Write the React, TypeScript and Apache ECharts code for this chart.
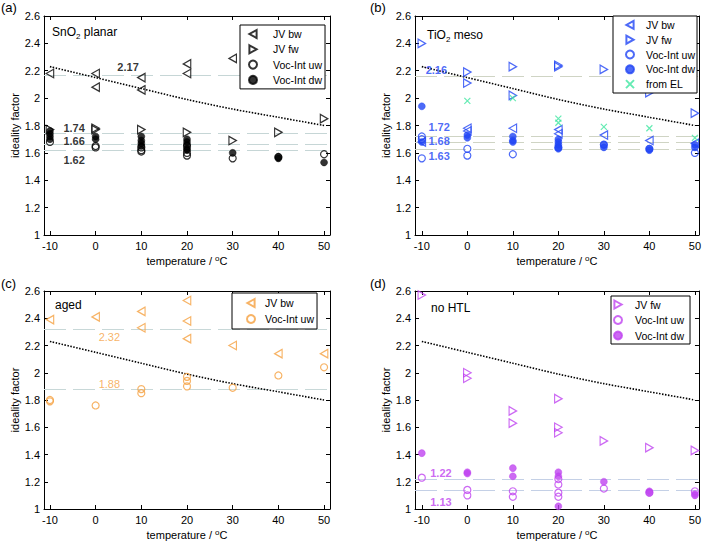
import React, { useEffect, useRef } from "react";
import * as echarts from "echarts";

const FONT = "'Liberation Sans', Arial, Helvetica, sans-serif";

// x positions of the ticks
const xTicks = [-10, 0, 10, 20, 30, 40, 50];

// theoretical dotted curve (ideality factor vs temperature)
const theoryT = [-10, 0, 10, 20, 30, 40, 50];
const theoryN = [2.23, 2.15, 2.07, 1.99, 1.92, 1.86, 1.8];

// ---- panel (a) SnO2 planar ----
const aJVbw = [[-10, 2.18], [0, 2.18], [0, 2.08], [10, 2.15], [10, 2.06], [20, 2.25], [20, 2.18], [30, 2.29]];
const aJVfw = [[-10, 1.77], [0, 1.78], [0, 1.77], [10, 1.77], [20, 1.75], [30, 1.69], [40, 1.75], [50, 1.85]];
const aUw = [[-10, 1.68], [0, 1.64], [0, 1.65], [10, 1.64], [10, 1.62], [10, 1.61], [20, 1.65], [20, 1.6], [20, 1.58], [30, 1.56], [40, 1.57], [50, 1.59]];
const aDw = [[-10, 1.76], [-10, 1.74], [-10, 1.72], [-10, 1.7], [0, 1.72], [0, 1.7], [10, 1.72], [10, 1.69], [10, 1.67], [10, 1.65], [20, 1.7], [20, 1.68], [20, 1.66], [20, 1.63], [20, 1.62], [30, 1.6], [40, 1.57], [40, 1.56], [50, 1.53]];
const aMeans = [2.17, 1.74, 1.66, 1.62];
const aLabels = [[7.1, 2.23, "2.17"], [-4.7, 1.785, "1.74"], [-4.7, 1.684, "1.66"], [-4.7, 1.547, "1.62"]];

// ---- panel (b) TiO2 meso ----
const bJVbw = [[-10, 1.68], [0, 1.78], [0, 1.76], [10, 1.78], [20, 1.77], [20, 1.74], [30, 1.73], [40, 1.69], [50, 1.67]];
const bJVfw = [[-10, 2.4], [0, 2.19], [0, 2.11], [10, 2.23], [10, 2.02], [20, 2.24], [20, 2.23], [30, 2.21], [40, 2.04], [50, 1.89]];
const bUw = [[-10, 1.72], [-10, 1.7], [-10, 1.56], [0, 1.63], [0, 1.58], [10, 1.59], [20, 1.64], [30, 1.66], [40, 1.63], [50, 1.6]];
const bDw = [[-10, 1.94], [-10, 1.68], [0, 1.73], [0, 1.71], [10, 1.72], [10, 1.69], [10, 1.68], [20, 1.7], [20, 1.68], [20, 1.66], [20, 1.64], [20, 1.63], [30, 1.66], [30, 1.64], [40, 1.63], [40, 1.62], [50, 1.66], [50, 1.64]];
const bEL = [[0, 1.98], [10, 2.0], [20, 1.85], [20, 1.82], [30, 1.79], [40, 1.78], [50, 1.71]];
const bMeans = [2.16, 1.72, 1.68, 1.63];
const bLabels = [[-6.8, 2.207, "2.16"], [-6.2, 1.79, "1.72"], [-6.2, 1.69, "1.68"], [-6.2, 1.58, "1.63"]];

// ---- panel (c) aged ----
const cJVbw = [[-10, 2.39], [0, 2.41], [10, 2.45], [10, 2.33], [20, 2.53], [20, 2.38], [20, 2.25], [30, 2.2], [40, 2.14], [50, 2.14]];
const cUw = [[-10, 1.8], [-10, 1.79], [0, 1.76], [10, 1.88], [10, 1.85], [20, 1.97], [20, 1.94], [20, 1.9], [30, 1.89], [40, 1.98], [50, 2.04]];
const cMeans = [2.32, 1.88];
const cLabels = [[3.0, 2.265, "2.32"], [3.0, 1.916, "1.88"]];

// ---- panel (d) no HTL ----
const dJVfw = [[-10, 2.57], [0, 2.0], [0, 1.96], [10, 1.72], [10, 1.63], [20, 1.81], [20, 1.6], [20, 1.56], [30, 1.5], [40, 1.45], [50, 1.43]];
const dUw = [[-10, 1.23], [0, 1.14], [0, 1.1], [10, 1.13], [10, 1.09], [20, 1.22], [20, 1.18], [20, 1.12], [20, 1.09], [30, 1.15], [40, 1.12], [50, 1.13]];
const dDw = [[-10, 1.41], [0, 1.27], [0, 1.26], [10, 1.3], [10, 1.24], [20, 1.27], [20, 1.24], [20, 1.02], [30, 1.2], [40, 1.13], [40, 1.12], [50, 1.11], [50, 1.1]];
const dMeans = [1.22, 1.135];
const dLabels = [[-5.8, 1.265, "1.22"], [-5.8, 1.055, "1.13"]];

const LEFT = "path://M9,0L0,5L9,10Z";
const RIGHT = "path://M0,0L9,5L0,10Z";
const CROSS = "path://M0,0L10,10M10,0L0,10";

type Marker = { name: string; kind: "bw" | "fw" | "uw" | "dw" | "el"; data: number[][]; color?: string };

type Panel = {
  key: string;
  letter: string;
  color: string;
  grid: { left: number; top: number; width: number; height: number };
  xMin: number;
  xMax: number;
  markers: Marker[];
  means: number[];
  meanColor: string;
  labels: (number | string)[][];
  labelBold: boolean;
  title: string;
  titlePos: [number, number];
  letterPos: [number, number];
  legend: { left: number; top: number; padding: number[]; itemGap: number; textPad: number };
};

const panels: Panel[] = [
  {
    key: "a", letter: "(a)", color: "#000000",
    grid: { left: 44, top: 16, width: 286, height: 219 }, xMin: -11.3, xMax: 51.3,
    markers: [
      { name: "JV bw", kind: "bw", data: aJVbw },
      { name: "JV fw", kind: "fw", data: aJVfw },
      { name: "Voc-Int uw", kind: "uw", data: aUw },
      { name: "Voc-Int dw", kind: "dw", data: aDw },
    ],
    means: aMeans, meanColor: "#c6d6d6", labels: aLabels, labelBold: true,
    title: "SnO{sub|2} planar", titlePos: [52, 24], letterPos: [1, 1],
    legend: { left: 240, top: 25, padding: [3.5, 3, 3.5, 8], itemGap: 4.3, textPad: 9 },
  },
  {
    key: "b", letter: "(b)", color: "#2045f5",
    grid: { left: 415, top: 16, width: 285, height: 219 }, xMin: -11.5, xMax: 50.9,
    markers: [
      { name: "JV bw", kind: "bw", data: bJVbw },
      { name: "JV fw", kind: "fw", data: bJVfw },
      { name: "Voc-Int uw", kind: "uw", data: bUw },
      { name: "Voc-Int dw", kind: "dw", data: bDw },
      { name: "from EL", kind: "el", data: bEL, color: "#3ee6a0" },
    ],
    means: bMeans, meanColor: "#cfd4c4", labels: bLabels, labelBold: true,
    title: "TiO{sub|2} meso", titlePos: [427, 27], letterPos: [370, 1],
    legend: { left: 613, top: 16, padding: [3.4, 2, 3.4, 12], itemGap: 3.8, textPad: 5 },
  },
  {
    key: "c", letter: "(c)", color: "#f5a040",
    grid: { left: 44, top: 291, width: 286, height: 220 }, xMin: -11.3, xMax: 51.3,
    markers: [
      { name: "JV bw", kind: "bw", data: cJVbw },
      { name: "Voc-Int uw", kind: "uw", data: cUw },
    ],
    means: cMeans, meanColor: "#c8d8d8", labels: cLabels, labelBold: false,
    title: "aged", titlePos: [55, 297], letterPos: [1, 277],
    legend: { left: 232, top: 293, padding: [4.5, 3, 4.5, 14], itemGap: 5, textPad: 3 },
  },
  {
    key: "d", letter: "(d)", color: "#bf44f0",
    grid: { left: 415, top: 291, width: 285, height: 220 }, xMin: -11.5, xMax: 50.9,
    markers: [
      { name: "JV fw", kind: "fw", data: dJVfw },
      { name: "Voc-Int uw", kind: "uw", data: dUw },
      { name: "Voc-Int dw", kind: "dw", data: dDw },
    ],
    means: dMeans, meanColor: "#c4d0e6", labels: dLabels, labelBold: true,
    title: "no HTL", titlePos: [431, 300], letterPos: [370, 277],
    legend: { left: 611, top: 296, padding: [3, 6, 3, 2], itemGap: 4.5, textPad: 6 },
  },
];

function markerSeries(p: Panel, m: Marker, gi: number) {
  const col = m.color || p.color;
  const hollow = m.kind !== "dw";
  let symbol: string = "circle";
  let size: number | number[] = 7;
  if (m.kind === "bw") { symbol = LEFT; size = [7.5, 8.5]; }
  if (m.kind === "fw") { symbol = RIGHT; size = [7.5, 8.5]; }
  if (m.kind === "el") { symbol = CROSS; size = 6; }
  return {
    type: "scatter",
    name: p.key + ":" + m.name,
    xAxisIndex: gi * 2,
    yAxisIndex: gi * 2,
    symbol,
    symbolSize: size,
    itemStyle: hollow
      ? { color: "rgba(255,255,255,0)", borderColor: col, borderWidth: 1.2 }
      : { color: col, borderColor: col, borderWidth: 0.5 },
    data: m.data,
    z: 3,
  };
}

function buildOption() {
  const grid: any[] = [];
  const xAxis: any[] = [];
  const yAxis: any[] = [];
  const series: any[] = [];
  const legend: any[] = [];
  const graphic: any[] = [];
  const axisLine = { show: true, onZero: false, lineStyle: { color: "#000", width: 1 } };
  const tickStyle = { inside: true, length: 4, lineStyle: { color: "#000", width: 1 } };

  panels.forEach((p, gi) => {
    grid.push({ ...p.grid });
    xAxis.push({
      gridIndex: gi, type: "value", position: "bottom", min: p.xMin, max: p.xMax,
      axisLine, axisTick: { ...tickStyle, customValues: xTicks },
      axisLabel: { customValues: xTicks, color: "#000", fontSize: 11, fontFamily: FONT, margin: 5 },
      splitLine: { show: false },
      name: "temperature / {sup|o}C", nameLocation: "middle", nameGap: 19,
      nameTextStyle: {
        color: "#000", fontSize: 11, fontFamily: FONT, lineHeight: 14,
        rich: { sup: { fontSize: 8, verticalAlign: "top", lineHeight: 10, fontFamily: FONT, color: "#000" } },
      },
    });
    xAxis.push({
      gridIndex: gi, type: "value", position: "top", min: p.xMin, max: p.xMax,
      axisLine, axisTick: { ...tickStyle, customValues: xTicks },
      axisLabel: { show: false, customValues: xTicks }, splitLine: { show: false },
    });
    yAxis.push({
      gridIndex: gi, type: "value", position: "left", min: 1, max: 2.6, interval: 0.2,
      axisLine, axisTick: tickStyle,
      axisLabel: { color: "#000", fontSize: 11, fontFamily: FONT, margin: 4 },
      splitLine: { show: false },
      name: "ideality factor", nameLocation: "middle", nameGap: 21,
      nameTextStyle: { color: "#000", fontSize: 11, fontFamily: FONT },
    });
    yAxis.push({
      gridIndex: gi, type: "value", position: "right", min: 1, max: 2.6, interval: 0.2,
      axisLine, axisTick: tickStyle, axisLabel: { show: false }, splitLine: { show: false },
    });

    // theory dotted line with dashed mean lines
    series.push({
      type: "line", name: p.key + ":theory", xAxisIndex: gi * 2, yAxisIndex: gi * 2,
      data: theoryT.map((t, i) => [t, theoryN[i]]),
      symbol: "none", smooth: 0.3,
      lineStyle: { color: "#000", width: 1.6, type: [1.5, 1.5] },
      z: 2,
      markLine: {
        silent: true, symbol: "none", label: { show: false },
        lineStyle: { type: [22, 7], color: p.meanColor, width: 1.2 },
        data: p.means.map((v) => ({ yAxis: v })),
        z: 1,
      },
    });

    p.markers.forEach((m) => series.push(markerSeries(p, m, gi)));

    series.push({
      type: "scatter", name: p.key + ":labels", xAxisIndex: gi * 2, yAxisIndex: gi * 2,
      symbolSize: 1, itemStyle: { color: "rgba(0,0,0,0)" }, silent: true,
      data: p.labels,
      label: {
        show: true, position: "inside", formatter: (q: any) => q.data[2],
        color: p.color, fontSize: 11, fontFamily: FONT, fontWeight: p.labelBold ? "bold" : "normal",
      },
      z: 4,
    });

    legend.push({
      orient: "vertical", left: p.legend.left, top: p.legend.top,
      data: p.markers.map((m) => p.key + ":" + m.name),
      formatter: (n: string) => n.slice(2),
      itemWidth: 12, itemHeight: 8, itemGap: p.legend.itemGap,
      padding: p.legend.padding,
      borderColor: "#000", borderWidth: 1, backgroundColor: "#fff",
      selectedMode: false,
      textStyle: {
        color: "#000", fontSize: 10.5, lineHeight: 10, fontFamily: FONT,
        padding: [0, 0, 0, p.legend.textPad],
      },
    });

    graphic.push({
      type: "text", left: p.titlePos[0], top: p.titlePos[1],
      style: {
        text: p.title, fill: "#000", font: `12px ${FONT}`, lineHeight: 16,
        rich: { sub: { fontSize: 8, verticalAlign: "bottom", lineHeight: 11, fontFamily: FONT, fill: "#000" } },
      },
      z: 10,
    });
    graphic.push({
      type: "text", left: p.letterPos[0], top: p.letterPos[1],
      style: { text: p.letter, fill: "#000", font: `13px ${FONT}` },
      z: 10,
    });
  });

  return {
    animation: false,
    backgroundColor: "#fff",
    grid, xAxis, yAxis, series, legend, graphic,
  };
}

export default function App() {
  const ref = useRef<HTMLDivElement>(null);
  useEffect(() => {
    if (!ref.current) return;
    const chart = echarts.init(ref.current, undefined, { renderer: "svg" });
    chart.setOption(buildOption() as any);
    return () => chart.dispose();
  }, []);
  return <div ref={ref} style={{ position: "absolute", left: 0, top: 0, width: 704, height: 543, background: "#fff" }} />;
}
